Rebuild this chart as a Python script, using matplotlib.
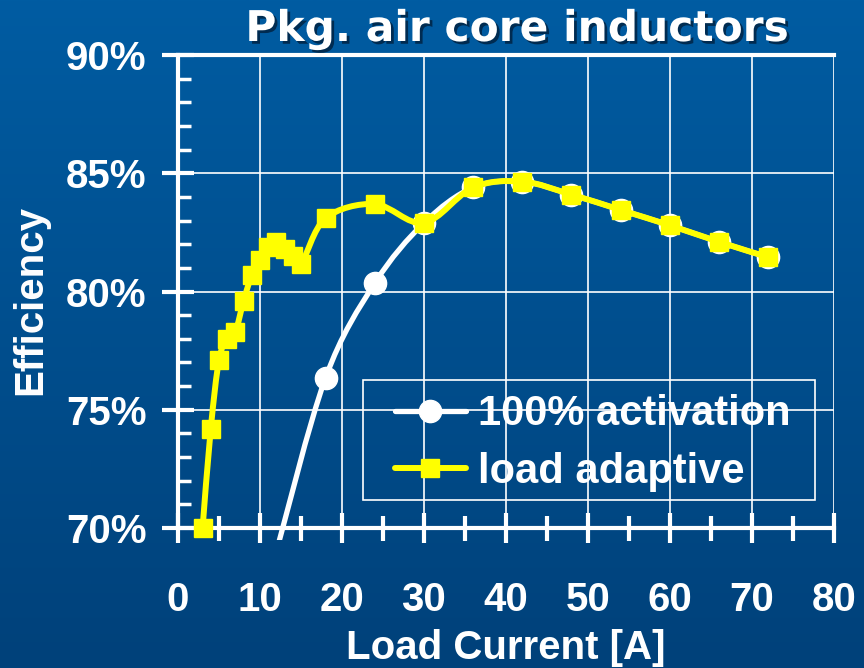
import numpy as np
import matplotlib
matplotlib.use("Agg")
import matplotlib.pyplot as plt
import matplotlib.patheffects as pe
from matplotlib.path import Path
from matplotlib.patches import PathPatch, Rectangle
from matplotlib.lines import Line2D
from matplotlib.ticker import MultipleLocator, FuncFormatter

# data (load current in A, efficiency in %)
full_x = [12, 18, 24, 30, 36, 42, 48, 54, 60, 66, 72]
full_y = [69.0, 76.35, 80.35, 82.9, 84.4, 84.65, 84.1, 83.45, 82.8, 82.1, 81.45]

adapt_x = [3, 4, 5, 6, 7, 8, 9, 10, 11, 12, 13, 14, 15, 18, 24,
           30, 36, 42, 48, 54, 60, 66, 72]
adapt_y = [70.0, 74.2, 77.1, 78.0, 78.3, 79.6, 80.7, 81.35, 81.9, 82.1, 81.8,
           81.5, 81.15, 83.1, 83.7, 82.9, 84.4, 84.65, 84.1, 83.45, 82.8, 82.1, 81.45]

labels = ["100% activation", "load adaptive"]

BG_TOP = "#005CA2"
BG_BOTTOM = "#00417A"
YELLOW = "#FFFF00"
FONT = "Liberation Sans"


def smooth_path(x, y):
    # catmull-rom through the points, as bezier segments
    pts = np.column_stack([x, y]).astype(float)
    n = len(pts)
    verts = [pts[0]]
    codes = [Path.MOVETO]
    for i in range(n - 1):
        p0 = pts[max(i - 1, 0)]
        p1 = pts[i]
        p2 = pts[i + 1]
        p3 = pts[min(i + 2, n - 1)]
        verts += [p1 + (p2 - p0) / 6, p2 - (p3 - p1) / 6, p2]
        codes += [Path.CURVE4] * 3
    return Path(verts, codes)


def main():
    fig = plt.figure(figsize=(8.64, 6.68), dpi=100)

    # gradient background
    bg = fig.add_axes([0, 0, 1, 1], zorder=-10)
    grad = np.linspace(0, 1, 256).reshape(-1, 1)
    cmap = matplotlib.colors.LinearSegmentedColormap.from_list("bg", [BG_TOP, BG_BOTTOM])
    bg.imshow(grad, aspect="auto", cmap=cmap, extent=[0, 1, 0, 1])
    bg.axis("off")

    ax = fig.add_axes([0.206, 0.2096, 0.759, 0.708])
    ax.set_facecolor("none")
    ax.set_xlim(0, 80)
    ax.set_ylim(70, 90)

    ax.xaxis.set_major_locator(MultipleLocator(10))
    ax.xaxis.set_minor_locator(MultipleLocator(5))
    ax.yaxis.set_major_locator(MultipleLocator(5))
    ax.yaxis.set_minor_locator(MultipleLocator(1))
    ax.yaxis.set_major_formatter(FuncFormatter(lambda v, p: f"{v:.0f}%"))

    ax.grid(True, which="major", color="white", lw=1.2, zorder=0)
    for s in ["left", "bottom", "top"]:
        ax.spines[s].set_color("white")
        ax.spines[s].set_linewidth(3)
    ax.spines["right"].set_visible(False)

    ax.tick_params(axis="x", which="major", direction="inout", length=22, width=3,
                   colors="white", pad=27)
    ax.tick_params(axis="x", which="minor", direction="inout", length=18, width=3,
                   colors="white")
    ax.tick_params(axis="y", which="major", direction="inout", length=23, width=3,
                   colors="white", pad=11)
    ax.tick_params(axis="y", which="minor", direction="in", length=9, width=2.5,
                   colors="white")
    for t in ax.get_xticklabels() + ax.get_yticklabels():
        t.set_fontfamily(FONT)
        t.set_fontweight("bold")
        t.set_fontsize(29)
        t.set_color("white")

    ax.set_xlabel("Load Current [A]", fontfamily=FONT, fontweight="bold",
                  fontsize=29, color="white", va="center")
    ax.xaxis.set_label_coords(0.5, -0.254)
    ax.set_ylabel("Efficiency", fontfamily=FONT, fontweight="bold",
                  fontsize=29, color="white", va="center")
    ax.yaxis.set_label_coords(-0.2256, 0.482)

    # 100% activation, clipped a little below the axis like the original
    clip = Rectangle((0, -0.026), 1, 1.1, transform=ax.transAxes,
                     facecolor="none", edgecolor="none")
    ax.add_patch(clip)
    w_line = PathPatch(smooth_path(full_x, full_y), facecolor="none",
                       edgecolor="white", lw=3.8, zorder=3, capstyle="round")
    ax.add_patch(w_line)
    w_line.set_clip_path(clip)
    ax.plot(full_x[1:], full_y[1:], ls="none", marker="o", ms=16,
            color="white", zorder=4)

    # load adaptive
    y_line = PathPatch(smooth_path(adapt_x, adapt_y), facecolor="none",
                       edgecolor=YELLOW, lw=4.3, zorder=5, capstyle="round")
    ax.add_patch(y_line)
    y_line.set_clip_on(False)
    ax.plot(adapt_x, adapt_y, ls="none", marker="s", ms=13.5, color=YELLOW,
            zorder=6, clip_on=False)

    # legend box
    ax.add_patch(Rectangle((0.282, 0.059), 0.689, 0.254, transform=ax.transAxes,
                           facecolor="none", edgecolor="white", lw=1.2, zorder=9))
    handles = [
        Line2D([], [], color="white", lw=3.8, marker="o", ms=16,
               solid_capstyle="round"),
        Line2D([], [], color=YELLOW, lw=4.3, marker="s", ms=13.5,
               solid_capstyle="round"),
    ]
    leg = ax.legend(handles, labels, loc="center left",
                    bbox_to_anchor=(0.331, 0.18), borderaxespad=0,
                    prop={"family": FONT, "weight": "bold", "size": 30},
                    handlelength=1.7, handletextpad=0.3, labelspacing=0.42,
                    borderpad=0, frameon=False)
    leg.set_zorder(10)
    for t in leg.get_texts():
        t.set_color("white")

    fig.text(517 / 864, 1 - 29 / 668, "Pkg. air core inductors",
             ha="center", va="center", fontsize=30.5, fontweight="bold",
             fontfamily="DejaVu Sans", color="white",
             path_effects=[pe.SimplePatchShadow(offset=(2, -2),
                                                shadow_rgbFace="#001830",
                                                alpha=0.7),
                           pe.Normal()])

    fig.savefig("out.png", dpi=100)


if __name__ == "__main__":
    main()
